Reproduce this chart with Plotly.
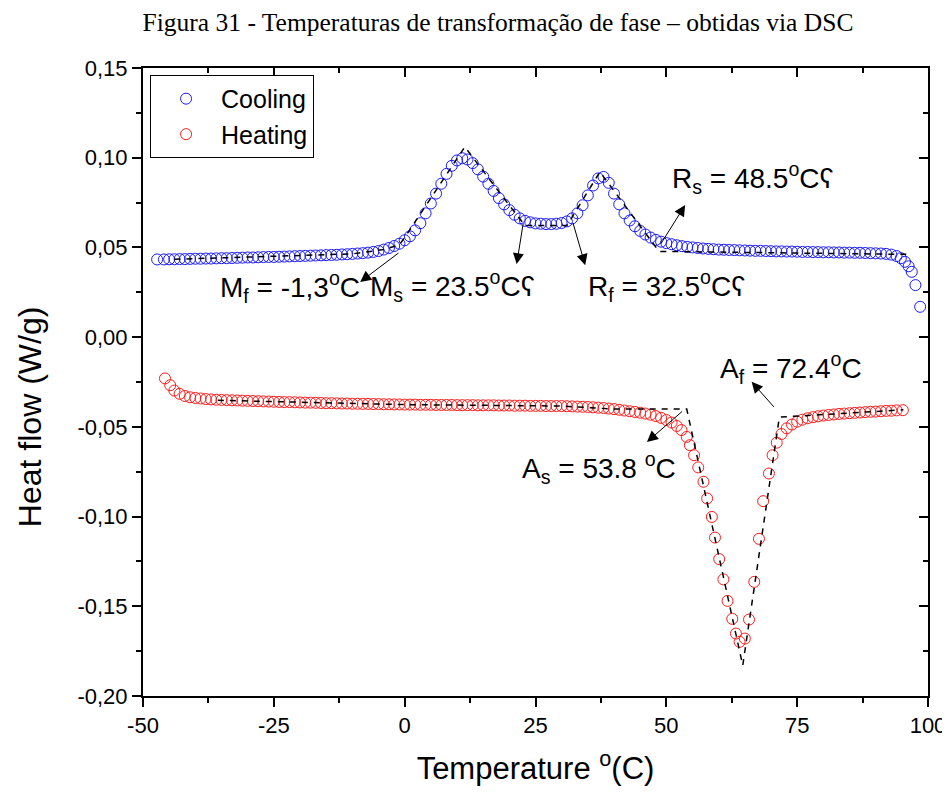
import plotly.graph_objects as go

# ---------------- data ----------------
cool_T = [-47.3, -46, -45, -44, -43, -42, -41, -40, -39, -38, -37, -36, -35, -34, -33, -32, -31, -30,
          -29, -28, -27, -26, -25, -24, -23, -22, -21, -20, -19, -18, -17, -16, -15, -14, -13, -12,
          -11, -10, -9, -8, -7, -6, -5, -4, -3, -2, -1, 0, 1, 2, 3, 4, 5, 6, 7, 8, 9, 10, 11, 12, 13,
          14, 15, 16, 17, 18, 19, 20, 21, 22, 23, 24, 25, 26, 27, 28, 29, 30, 31, 32, 33, 34, 35, 36,
          37, 38, 39, 40, 41, 42, 43, 44, 45, 46, 47, 48, 49, 50, 51, 52, 53, 54, 55, 56, 57, 58, 59,
          60, 61, 62, 63, 64, 65, 66, 67, 68, 69, 70, 71, 72, 73, 74, 75, 76, 77, 78, 79, 80, 81, 82,
          83, 84, 85, 86, 87, 88, 89, 90, 91, 92, 93, 94, 94.8, 95.6, 96.3, 96.9, 97.6, 98.5]
cool_Q = [0.0433, 0.0433, 0.0434, 0.0434, 0.0435, 0.0435, 0.0436, 0.0437, 0.0437, 0.0438, 0.0438,
          0.0439, 0.0440, 0.0440, 0.0441, 0.0442, 0.0443, 0.0444, 0.0444, 0.0445, 0.0446, 0.0447,
          0.0447, 0.0448, 0.0449, 0.0450, 0.0451, 0.0452, 0.0453, 0.0454, 0.0455, 0.0456, 0.0457,
          0.0458, 0.0459, 0.0461, 0.0462, 0.0464, 0.0466, 0.0468, 0.0471, 0.0475, 0.0480, 0.0488,
          0.0497, 0.0508, 0.0521, 0.0540, 0.0562, 0.0595, 0.0635, 0.0690, 0.0745, 0.0800, 0.0855,
          0.0910, 0.0955, 0.0985, 0.0997, 0.0990, 0.0970, 0.0935, 0.0895, 0.0855, 0.0815, 0.0775,
          0.0740, 0.0708, 0.0682, 0.0662, 0.0648, 0.0640, 0.0634, 0.0632, 0.0630, 0.0630, 0.0632,
          0.0636, 0.0645, 0.0662, 0.0690, 0.0735, 0.0790, 0.0845, 0.0885, 0.0893, 0.0860, 0.0800,
          0.0740, 0.0690, 0.0650, 0.0618, 0.0592, 0.0572, 0.0555, 0.0542, 0.0532, 0.0524, 0.0518,
          0.0512, 0.0507, 0.0503, 0.0500, 0.0497, 0.0494, 0.0492, 0.0490, 0.0488, 0.0487, 0.0486,
          0.0485, 0.0484, 0.0483, 0.0482, 0.0481, 0.0481, 0.0480, 0.0479, 0.0478, 0.0478, 0.0477,
          0.0477, 0.0476, 0.0475, 0.0475, 0.0474, 0.0474, 0.0473, 0.0473, 0.0472, 0.0472, 0.0471,
          0.0471, 0.0470, 0.0470, 0.0469, 0.0468, 0.0467, 0.0466, 0.0464, 0.0460, 0.0452, 0.0440,
          0.0420, 0.0395, 0.0364, 0.0290, 0.0169]

heat_T = [-45.8, -44.8, -44.0, -43.0, -42.0, -41.0, -40, -39, -38, -37, -36, -35, -34, -33, -32, -31,
          -30, -29, -28, -27, -26, -25, -24, -23, -22, -21, -20, -19, -18, -17, -16, -15, -14, -13,
          -12, -11, -10, -9, -8, -7, -6, -5, -4, -3, -2, -1, 0, 1, 2, 3, 4, 5, 6, 7, 8, 9, 10, 11, 12,
          13, 14, 15, 16, 17, 18, 19, 20, 21, 22, 23, 24, 25, 26, 27, 28, 29, 30, 31, 32, 33, 34, 35,
          36, 37, 38, 39, 40, 41, 42, 43, 44, 45, 46, 47, 48, 49, 50, 51, 52, 52.9, 53.9, 54.5, 55.3,
          56.1, 57.1, 57.8, 58.7, 59.3, 60.1, 60.9, 61.7, 62.6, 63.3, 64.0, 65.0, 65.8, 66.8, 67.7,
          68.5, 69.6, 70.3, 71.1, 72.0, 73.0, 74.0, 75, 76, 77, 78, 79, 80, 81, 82, 83, 84, 85, 86,
          87, 88, 89, 90, 91, 92, 93, 94, 95.2]
heat_Q = [-0.0230, -0.0268, -0.0298, -0.0316, -0.0328, -0.0335, -0.0339, -0.0342, -0.0345, -0.0347,
          -0.0349, -0.0350, -0.0351, -0.0352, -0.0353, -0.0354, -0.0355, -0.0356, -0.0357, -0.0358,
          -0.0359, -0.0360, -0.0361, -0.0362, -0.0362, -0.0363, -0.0364, -0.0365, -0.0365, -0.0366,
          -0.0367, -0.0368, -0.0368, -0.0369, -0.0370, -0.0370, -0.0371, -0.0371, -0.0372, -0.0372,
          -0.0373, -0.0373, -0.0374, -0.0374, -0.0375, -0.0375, -0.0376, -0.0376, -0.0376, -0.0377,
          -0.0377, -0.0377, -0.0378, -0.0378, -0.0378, -0.0378, -0.0379, -0.0379, -0.0379, -0.0379,
          -0.0380, -0.0380, -0.0380, -0.0380, -0.0381, -0.0381, -0.0381, -0.0382, -0.0382, -0.0382,
          -0.0383, -0.0383, -0.0383, -0.0384, -0.0384, -0.0384, -0.0384, -0.0385, -0.0386, -0.0387,
          -0.0388, -0.0389, -0.0391, -0.0393, -0.0395, -0.0398, -0.0401, -0.0405, -0.0409, -0.0413,
          -0.0417, -0.0421, -0.0426, -0.0432, -0.0440, -0.0450, -0.0462, -0.0476, -0.0495, -0.0518,
          -0.0556, -0.0602, -0.0658, -0.0726, -0.0806, -0.0899, -0.1002, -0.1117, -0.1237, -0.1350,
          -0.1470, -0.1570, -0.1652, -0.1698, -0.1680, -0.1574, -0.1364, -0.1124, -0.0914, -0.0760,
          -0.0658, -0.0588, -0.0540, -0.0508, -0.0487, -0.0471, -0.0460, -0.0452, -0.0446, -0.0441,
          -0.0437, -0.0434, -0.0431, -0.0428, -0.0426, -0.0424, -0.0422, -0.0420, -0.0418, -0.0416,
          -0.0415, -0.0413, -0.0411, -0.0410, -0.0408, -0.0407]

# tangent / baseline construction lines (dashed)
cool_tan_T = [-44, -10, -4, -1, 0.0, 11.5, 20.7, 23.0, 31.0, 37.3, 48.6, 97.0]
cool_tan_Q = [0.0434, 0.0464, 0.0488, 0.0515, 0.0555, 0.1060, 0.0708, 0.0622, 0.0622, 0.0921, 0.0478, 0.0461]
heat_tan_T = [-35.7, 0, 30, 40, 53.9, 64.6, 71.6, 80, 90, 95.3]
heat_tan_Q = [-0.0352, -0.0376, -0.0384, -0.0401, -0.0401, -0.1830, -0.0446, -0.0432, -0.0414, -0.0405]

# arrow annotations: (label, text x, text y, arrow tail x, tail y, head x, head y)
labels = [
    ("M<sub>f</sub> = -1,3<sup>o</sup>C", -35.7, 0.0279, -0.9, 0.0475, -8.5, 0.0308),
    ("M<sub>s</sub> = 23.5<sup>o</sup>Cʕ", -7.0, 0.0285, 22.7, 0.0643, 21.4, 0.0407),
    ("R<sub>f</sub> = 32.5<sup>o</sup>Cʕ", 34.6, 0.0285, 32.1, 0.0643, 34.5, 0.0401),
    ("R<sub>s</sub> = 48.5<sup>o</sup>Cʕ", 50.7, 0.0886, 48.8, 0.0513, 53.6, 0.0736),
    ("A<sub>f</sub> = 72.4<sup>o</sup>C", 59.9, -0.0173, 70.8, -0.0397, 66.3, -0.0249),
    ("A<sub>s</sub> = 53.8 <sup>o</sup>C", 22.0, -0.0730, 53.3, -0.0407, 46.3, -0.0584),
]

x_ticks = [-50, -25, 0, 25, 50, 75, 100]
y_ticks = [0.15, 0.10, 0.05, 0.00, -0.05, -0.10, -0.15, -0.20]
y_tick_text = ["0,15", "0,10", "0,05", "0,00", "-0,05", "-0,10", "-0,15", "-0,20"]

FONT = "Liberation Sans, Arial, sans-serif"

fig = go.Figure()
fig.add_trace(go.Scatter(x=cool_T, y=cool_Q, mode="markers", name="Cooling",
                         marker=dict(symbol="circle-open", size=11, color="#1a1aff",
                                     line=dict(width=1, color="#1a1aff"))))
fig.add_trace(go.Scatter(x=heat_T, y=heat_Q, mode="markers", name="Heating",
                         marker=dict(symbol="circle-open", size=11, color="#ff1a1a",
                                     line=dict(width=1, color="#ff1a1a"))))
fig.add_trace(go.Scatter(x=cool_tan_T, y=cool_tan_Q, mode="lines", showlegend=False,
                         line=dict(color="black", width=1.5, dash="6px,6px")))
fig.add_trace(go.Scatter(x=heat_tan_T, y=heat_tan_Q, mode="lines", showlegend=False,
                         line=dict(color="black", width=1.5, dash="6px,6px")))
# invisible trace to bring the mirrored (top/right) axes to life
fig.add_trace(go.Scatter(x=[-50], y=[0.15], xaxis="x2", yaxis="y2", mode="markers",
                         marker=dict(opacity=0), showlegend=False, hoverinfo="skip"))

for text, tx, ty, axx, ayy, hx, hy in labels:
    fig.add_annotation(x=hx, y=hy, ax=axx, ay=ayy, xref="x", yref="y", axref="x", ayref="y",
                       text="", showarrow=True, arrowhead=2, arrowsize=2.2, arrowwidth=1,
                       arrowcolor="black", standoff=0, startstandoff=0)
    fig.add_annotation(x=tx, y=ty, xref="x", yref="y", text=text, showarrow=False,
                       xanchor="left", yanchor="middle",
                       font=dict(family=FONT, size=28, color="black"))

# y axis title (placed slightly below the plot centre, as in the original)
fig.add_annotation(x=-0.144, y=0.444, xref="paper", yref="paper", text="Heat flow (W/g)",
                   textangle=-90, showarrow=False, xanchor="center", yanchor="middle",
                   font=dict(family=FONT, size=32, color="black"))

common_x = dict(range=[-50, 100], tickvals=x_ticks, showline=True, linecolor="black", linewidth=2,
                showgrid=False, zeroline=False, tickwidth=2, tickcolor="black", ticklen=9,
                automargin=False)
common_y = dict(range=[-0.20, 0.15], tickvals=y_ticks, showline=True, linecolor="black", linewidth=2,
                showgrid=False, zeroline=False, tickwidth=2, tickcolor="black", ticklen=9,
                automargin=False)

fig.update_layout(
    width=950, height=796,
    paper_bgcolor="white", plot_bgcolor="white",
    margin=dict(l=135, r=30, t=60, b=108),
    title=dict(text="Figura 31 - Temperaturas de transformação de fase – obtidas via DSC",
               x=490 / 950, xanchor="center", y=1 - 14 / 796, yanchor="middle",
               font=dict(family="Liberation Serif, Times New Roman, serif", size=25.5, color="black")),
    xaxis=dict(**common_x, ticks="outside", ticktext=[str(v) for v in x_ticks],
               tickfont=dict(family=FONT, size=22, color="black"),
               minor=dict(ticks="outside", dtick=12.5, ticklen=5, tickwidth=2, tickcolor="black"),
               title=dict(text="Temperature <sup>o</sup>(C)", standoff=20,
                          font=dict(family=FONT, size=31, color="black"))),
    yaxis=dict(**common_y, ticks="outside", ticktext=y_tick_text,
               tickfont=dict(family=FONT, size=22, color="black"),
               minor=dict(ticks="outside", dtick=0.025, ticklen=5, tickwidth=2, tickcolor="black")),
    xaxis2=dict(**common_x, overlaying="x", side="top", ticks="inside", showticklabels=False,
                minor=dict(ticks="inside", dtick=12.5, ticklen=5, tickwidth=2, tickcolor="black")),
    yaxis2=dict(**common_y, overlaying="y", side="right", ticks="inside", showticklabels=False,
                minor=dict(ticks="inside", dtick=0.025, ticklen=5, tickwidth=2, tickcolor="black")),
    legend=dict(x=0.009, y=0.989, xanchor="left", yanchor="top", bgcolor="white",
                bordercolor="black", borderwidth=1, itemwidth=60,
                font=dict(family=FONT, size=25, color="black"), tracegroupgap=0),
    showlegend=True,
)

fig.write_html("out.html")
